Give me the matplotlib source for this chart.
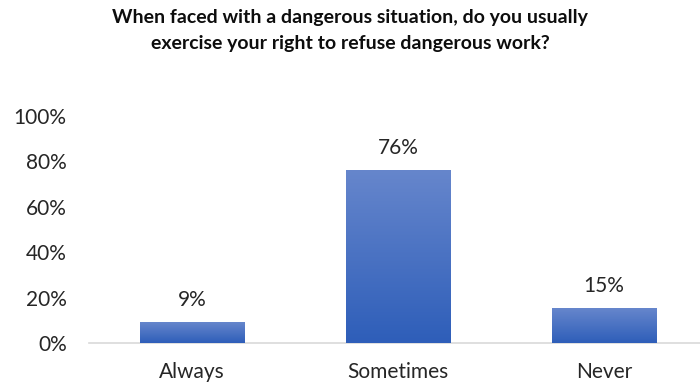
import matplotlib
matplotlib.use('Agg')
import matplotlib.pyplot as plt
import numpy as np
from matplotlib.colors import LinearSegmentedColormap
from matplotlib.ticker import PercentFormatter

plt.rcParams['font.family'] = ['Lato', 'DejaVu Sans']

# data
categories = ['Always', 'Sometimes', 'Never']
shares = [0.09, 0.76, 0.15]
title = ('When faced with a dangerous situation, do you usually\n'
         'exercise your right to refuse dangerous work?')

fig = plt.figure(figsize=(7, 3.83), dpi=100)
ax = fig.add_axes([0.127, 0.1044, 0.873, 0.5927])

x = np.arange(len(categories))
bars = ax.bar(x, shares, width=0.505, color='#4471C4', zorder=2)

# vertical gradient on each bar
cmap = LinearSegmentedColormap.from_list('grad', ['#2E5EB9', '#6686CC'])
grad = np.linspace(0, 1, 256).reshape(-1, 1)
for b in bars:
    x0, w, h = b.get_x(), b.get_width(), b.get_height()
    im = ax.imshow(grad, cmap=cmap, aspect='auto', origin='lower',
                   extent=[x0, x0 + w, 0, h], zorder=3)
    b.set_visible(False)
    ax.annotate(f'{h:.0%}', (x0 + w / 2, h), xytext=(0, 9),
                textcoords='offset points', ha='center', va='bottom',
                fontsize=15, color='#262626')

ax.set_xlim(-0.5, 2.466)
ax.set_ylim(0, 1)
ax.set_xticks(x)
ax.set_xticklabels(categories)
ax.set_yticks(np.arange(0, 1.01, 0.2))
ax.yaxis.set_major_formatter(PercentFormatter(1.0, decimals=0))
ax.tick_params(axis='both', length=0, labelsize=15, colors='#262626')
ax.tick_params(axis='x', pad=14)
ax.tick_params(axis='y', pad=16)
for s in ['top', 'right', 'left']:
    ax.spines[s].set_visible(False)
ax.spines['bottom'].set_color('#D9D9D9')
ax.spines['bottom'].set_linewidth(1.2)

fig.text(0.5, 0.92, title, ha='center', va='center', fontsize=14,
         fontweight='bold', color='#0D0D0D', linespacing=1.65)

fig.savefig('out.png', dpi=100)
